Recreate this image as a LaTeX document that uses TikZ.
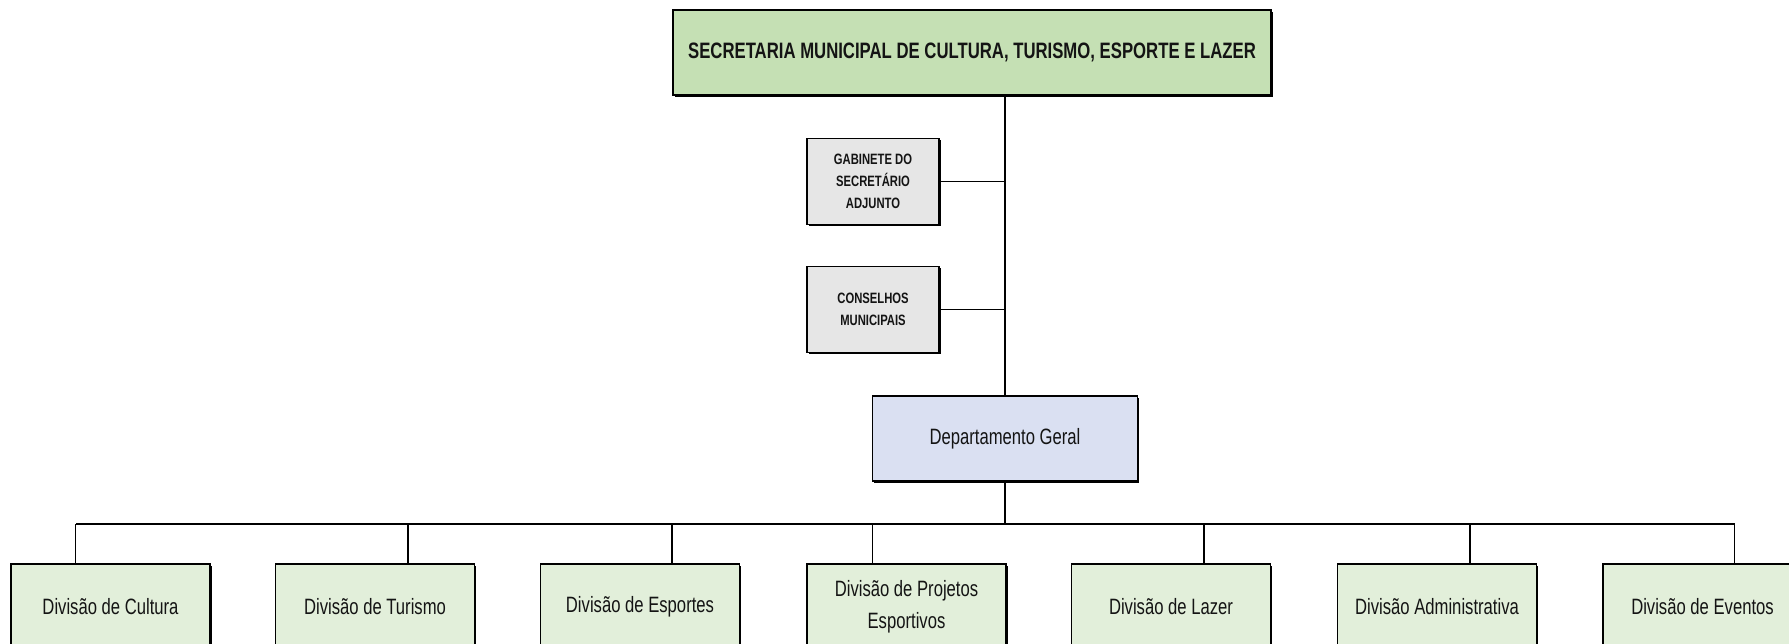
\documentclass[tikz,border=0pt]{standalone}
\usepackage{fontspec}
\setmainfont{Liberation Sans}[FakeStretch=0.75]
\usetikzlibrary{shadows}
\definecolor{topgreen}{RGB}{197,224,180}
\definecolor{boxgray}{RGB}{230,230,230}
\definecolor{deplav}{RGB}{218,224,242}
\definecolor{divgreen}{RGB}{226,239,218}
\definecolor{ink}{RGB}{20,20,20}
\tikzset{
  orgbox/.style={draw=black, line width=1.2pt, inner sep=0pt, align=center, text=ink,
    drop shadow={shadow xshift=1.6pt, shadow yshift=-1.6pt, opacity=1, fill=black}},
  topbox/.style={orgbox, fill=topgreen, minimum width=598pt, minimum height=85pt,
    font=\fontsize{22.3}{28}\selectfont\bfseries},
  sidebox/.style={orgbox, fill=boxgray, minimum width=132pt, minimum height=86pt,
    font=\fontsize{15}{22}\selectfont\bfseries},
  depbox/.style={orgbox, fill=deplav, minimum width=265pt, minimum height=85pt,
    font=\fontsize{22.2}{32}\selectfont},
  divbox/.style={orgbox, fill=divgreen, minimum width=199pt, minimum height=86pt,
    font=\fontsize{22.2}{32}\selectfont},
  link/.style={draw=black, line width=1.3pt},
  buslink/.style={draw=black, line width=2pt},
}
\begin{document}
\begin{tikzpicture}[x=1pt,y=-1pt]
\useasboundingbox (0,0) rectangle (1789,643);
\clip (0,0) rectangle (1789,643);

\node[topbox] (top) at (972,52.5) {SECRETARIA MUNICIPAL DE CULTURA, TURISMO, ESPORTE E LAZER};
\node[sidebox] (gab) at (873,181.5) {GABINETE DO\\SECRETÁRIO\\ADJUNTO};
\node[sidebox] (cons) at (873,309.5) {CONSELHOS\\MUNICIPAIS};
\node[depbox] (dep) at (1005,438.5) {Departamento Geral};

\node[divbox] (cul) at (110.5,607) {Divisão de Cultura};
\node[divbox] (tur) at (375,607) {Divisão de Turismo};
\node[divbox] (esp) at (640,607) {Divisão de Esportes};
\node[divbox] (proj) at (906.5,607) {Divisão de Projetos\\Esportivos};
\node[divbox] (laz) at (1171,607) {Divisão de Lazer};
\node[divbox] (adm) at (1437,607) {Divisão Administrativa};
\node[divbox] (eve) at (1702.5,607) {Divisão de Eventos};

% trunk
\draw[link] (top.south -| dep.north) -- (dep.north);
\draw[link] (gab.east) -- (gab.east -| dep.north);
\draw[link] (cons.east) -- (cons.east -| dep.north);

% bus
\coordinate (busL) at (76,524);
\coordinate (busR) at (1735,524);
\draw[link] (dep.south) -- (dep.south |- busL);
\draw[buslink] (busL) -- (busR);

% drops
\draw[link] ([xshift=65pt]cul.north west) -- ([xshift=65pt]cul.north west |- busL);
\draw[link] ([xshift=133pt]tur.north west) -- ([xshift=133pt]tur.north west |- busL);
\draw[link] ([xshift=132pt]esp.north west) -- ([xshift=132pt]esp.north west |- busL);
\draw[link] ([xshift=66pt]proj.north west) -- ([xshift=66pt]proj.north west |- busL);
\draw[link] ([xshift=133pt]laz.north west) -- ([xshift=133pt]laz.north west |- busL);
\draw[link] ([xshift=133pt]adm.north west) -- ([xshift=133pt]adm.north west |- busL);
\draw[link] ([xshift=132pt]eve.north west) -- ([xshift=132pt]eve.north west |- busL);
\end{tikzpicture}
\end{document}
